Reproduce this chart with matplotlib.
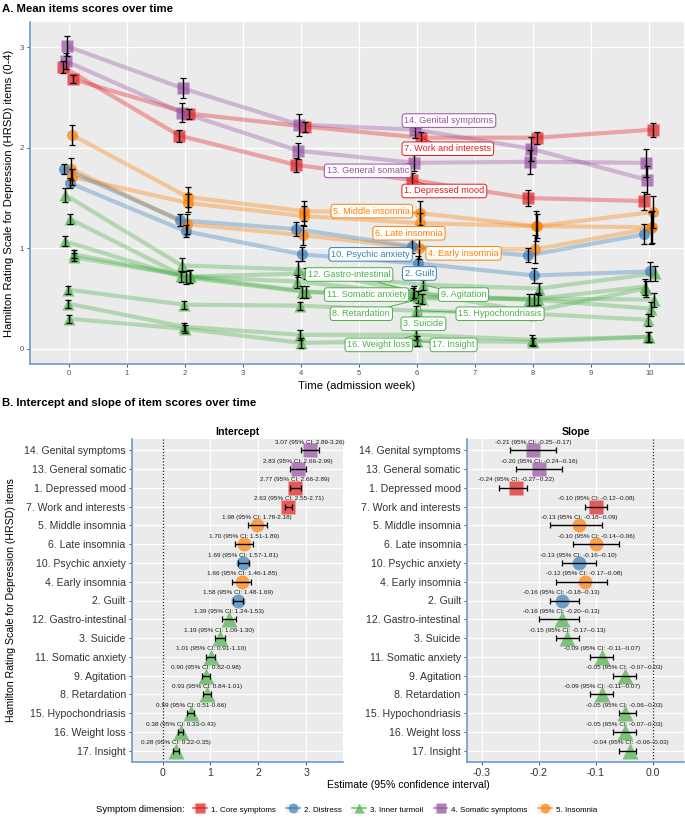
import numpy as np
import matplotlib
matplotlib.use("Agg")
import matplotlib.pyplot as plt
from matplotlib.lines import Line2D
from matplotlib.patches import Patch
from matplotlib.legend_handler import HandlerTuple

plt.rcParams['font.family'] = ['Liberation Sans', 'DejaVu Sans']

# ---------------- data ----------------
weeks = [0, 2, 4, 6, 8, 10]

items = ["1. Depressed mood", "2. Guilt", "3. Suicide", "4. Early insomnia",
         "5. Middle insomnia", "6. Late insomnia", "7. Work and interests",
         "8. Retardation", "9. Agitation", "10. Psychic anxiety",
         "11. Somatic anxiety", "12. Gastro-intestinal", "13. General somatic",
         "14. Genital symptoms", "15. Hypochondriasis", "16. Weight loss",
         "17. Insight"]
item_dim = [1, 2, 3, 5, 5, 5, 1, 3, 3, 2, 3, 3, 4, 4, 3, 3, 3]

mean_scores = [
    [2.80, 2.12, 1.83, 1.68, 1.50, 1.47],
    [1.65, 1.17, 0.94, 0.85, 0.73, 0.77],
    [1.29, 0.71, 0.57, 0.52, 0.49, 0.40],
    [1.79, 1.24, 1.13, 1.00, 0.99, 1.20],
    [2.13, 1.51, 1.37, 1.35, 1.22, 1.21],
    [1.71, 1.45, 1.32, 1.25, 1.22, 1.36],
    [2.68, 2.34, 2.21, 2.10, 2.10, 2.18],
    [0.94, 0.72, 0.57, 0.50, 0.50, 0.49],
    [0.91, 0.72, 0.75, 0.64, 0.60, 0.75],
    [1.79, 1.28, 1.19, 1.02, 0.93, 1.14],
    [1.07, 0.72, 0.67, 0.55, 0.49, 0.62],
    [1.53, 0.83, 0.79, 0.57, 0.37, 0.60],
    [2.86, 2.35, 1.97, 1.85, 1.86, 1.85],
    [3.01, 2.59, 2.23, 2.18, 1.99, 1.68],
    [0.59, 0.44, 0.43, 0.38, 0.35, 0.29],
    [0.45, 0.22, 0.14, 0.14, 0.09, 0.12],
    [0.30, 0.20, 0.06, 0.08, 0.07, 0.12],
]
mean_err = [
    [0.06, 0.06, 0.07, 0.07, 0.08, 0.09],
    [0.05, 0.06, 0.07, 0.07, 0.07, 0.09],
    [0.05, 0.06, 0.06, 0.06, 0.06, 0.07],
    [0.11, 0.10, 0.10, 0.11, 0.14, 0.16],
    [0.10, 0.10, 0.10, 0.12, 0.15, 0.16],
    [0.08, 0.09, 0.10, 0.10, 0.12, 0.16],
    [0.04, 0.05, 0.05, 0.06, 0.06, 0.07],
    [0.04, 0.06, 0.06, 0.05, 0.06, 0.07],
    [0.04, 0.06, 0.05, 0.05, 0.06, 0.07],
    [0.05, 0.06, 0.07, 0.07, 0.07, 0.10],
    [0.05, 0.05, 0.06, 0.06, 0.06, 0.08],
    [0.07, 0.07, 0.08, 0.06, 0.06, 0.08],
    [0.08, 0.09, 0.08, 0.08, 0.12, 0.14],
    [0.10, 0.10, 0.11, 0.08, 0.12, 0.14],
    [0.04, 0.04, 0.04, 0.05, 0.06, 0.06],
    [0.04, 0.04, 0.05, 0.05, 0.05, 0.05],
    [0.04, 0.04, 0.05, 0.05, 0.04, 0.05],
]

dim_names = ["1. Core symptoms", "2. Distress", "3. Inner turmoil",
             "4. Somatic symptoms", "5. Insomnia"]

b_items = [14, 13, 1, 7, 5, 6, 10, 4, 2, 12, 3, 11, 9, 8, 15, 16, 17]
intercept = [3.07, 2.83, 2.77, 2.63, 1.98, 1.70, 1.69, 1.66, 1.58, 1.39,
             1.19, 1.01, 0.90, 0.93, 0.59, 0.38, 0.28]
intercept_lo = [2.89, 2.66, 2.66, 2.55, 1.78, 1.51, 1.57, 1.46, 1.48, 1.24,
                1.09, 0.91, 0.82, 0.84, 0.51, 0.33, 0.22]
intercept_hi = [3.26, 2.99, 2.89, 2.71, 2.18, 1.89, 1.81, 1.85, 1.69, 1.53,
                1.30, 1.10, 0.98, 1.01, 0.66, 0.43, 0.35]
slope = [-0.21, -0.20, -0.24, -0.10, -0.13, -0.10, -0.13, -0.12, -0.16, -0.16,
         -0.15, -0.09, -0.05, -0.09, -0.05, -0.05, -0.04]
slope_lo = [-0.25, -0.24, -0.27, -0.12, -0.18, -0.14, -0.16, -0.17, -0.18, -0.20,
            -0.17, -0.11, -0.07, -0.11, -0.06, -0.07, -0.06]
slope_hi = [-0.17, -0.16, -0.22, -0.08, -0.09, -0.06, -0.10, -0.08, -0.13, -0.13,
            -0.13, -0.07, -0.03, -0.07, -0.03, -0.03, -0.03]

# ---------------- style ----------------
dim_color = {1: '#E41A1C', 2: '#377EB8', 3: '#4DAF4A', 4: '#984EA3', 5: '#FF7F00'}
dim_marker = {1: 's', 2: 'o', 3: '^', 4: 's', 5: 'o'}
label_pos = {1: (6.47, 1.57), 2: (6.04, 0.75), 3: (6.11, 0.25), 4: (6.80, 0.95),
             5: (5.22, 1.37), 6: (5.86, 1.15), 7: (6.53, 1.99), 8: (5.04, 0.35),
             9: (6.80, 0.54), 10: (5.20, 0.94), 11: (5.13, 0.54), 12: (4.83, 0.74),
             13: (5.15, 1.77), 14: (6.55, 2.27), 15: (7.43, 0.35), 16: (5.34, 0.04),
             17: (6.63, 0.04)}
BG = '#EBEBEB'
SPINE = '#6A9BD1'

W, H = 685, 818
fig = plt.figure(figsize=(W / 100, H / 100), dpi=100)


def rect(l, t, r, b):
    return [l / W, 1 - b / H, (r - l) / W, (b - t) / H]


def style(ax):
    ax.set_facecolor(BG)
    for s in ['top', 'right']:
        ax.spines[s].set_visible(False)
    for s in ['left', 'bottom']:
        ax.spines[s].set_color(SPINE)
        ax.spines[s].set_linewidth(1.2)
    ax.grid(True, color='white', lw=0.9)
    ax.set_axisbelow(True)


# ---------------- panel A ----------------
axA = fig.add_axes(rect(30, 22, 684, 364))
style(axA)
order = sorted(items)  # ggplot dodges groups in factor (alphabetical) order
n = len(items)
for i, name in enumerate(items):
    d = item_dim[i]
    k = order.index(name)
    off = -0.1 + (k + 0.5) * 0.2 / n
    x = np.array(weeks) + off
    y = mean_scores[i]
    axA.plot(x, y, color=dim_color[d], lw=3, alpha=0.35, solid_capstyle='butt', zorder=2)
    axA.plot(x, y, ls='none', marker=dim_marker[d], ms=8 if d != 3 else 9,
             color=dim_color[d], alpha=0.7, mec='none', zorder=3)
    axA.errorbar(x, y, yerr=mean_err[i], fmt='none', ecolor='black', elinewidth=1,
                 capsize=2, capthick=0.9, zorder=4)

for i, name in enumerate(items):
    num = i + 1
    d = item_dim[i]
    k = order.index(name)
    off = -0.1 + (k + 0.5) * 0.2 / n
    lx, ly = label_pos[num]
    px, py = 6 + off, mean_scores[i][3]
    axA.plot([px, lx], [py, ly], color=dim_color[d], lw=0.7, zorder=5)
    axA.text(lx, ly, name, ha='center', va='center', fontsize=6.6, color=dim_color[d],
             zorder=6,
             bbox=dict(boxstyle='round,pad=0.25,rounding_size=0.3', fc='white',
                       ec=dim_color[d], lw=0.7))

axA.set_xlim(-0.67, 10.6)
axA.set_ylim(-0.15, 3.25)
axA.set_xticks(range(0, 11))
axA.set_yticks([0, 1, 2, 3])
axA.tick_params(length=2.5, width=0.6, color='#333333', labelsize=5.5,
                labelcolor='#4D4D4D', pad=2)
axA.set_xlabel("Time (admission week)", fontsize=8.2, labelpad=3)
axA.set_ylabel("Hamilton Rating Scale for Depression (HRSD) items (0-4)", fontsize=8.1,
               labelpad=4)

fig.text(2 / W, 1 - 9 / H, "A. Mean items scores over time", fontsize=8.2,
         fontweight='bold', va='center', ha='left')
fig.text(2 / W, 1 - 403 / H, "B. Intercept and slope of item scores over time",
         fontsize=8.2, fontweight='bold', va='center', ha='left')

# ---------------- panel B ----------------
axI = fig.add_axes(rect(132, 439, 343, 762))
axS = fig.add_axes(rect(467, 439, 684, 762))
rows = np.arange(len(b_items))[::-1] + 1
labels = [items[j - 1] for j in b_items]


def forest(ax, est, lo, hi, fmt, title):
    style(ax)
    for r, j, e, l, h in zip(rows, b_items, est, lo, hi):
        d = item_dim[j - 1]
        ax.plot(e, r, marker=dim_marker[d], ms=10 if d != 3 else 11, color=dim_color[d],
                alpha=0.7, mec='none', zorder=3)
        ax.errorbar(e, r, xerr=[[e - l], [h - e]], fmt='none', ecolor='black',
                    elinewidth=1, capsize=2, capthick=0.9, zorder=4)
        ax.text(e, r + 0.42, fmt.format(e, l, h), fontsize=4.6, ha='center',
                va='center', color='#1a1a1a', zorder=5)
    ax.axvline(0, color='#1a1a1a', ls=(0, (1, 1.5)), lw=0.9, zorder=2)
    ax.set_yticks(rows)
    ax.set_yticklabels(labels)
    ax.set_ylim(0.4, len(b_items) + 0.6)
    ax.tick_params(length=2.5, width=0.6, color='#333333', labelsize=7.6,
                   labelcolor='#333333', pad=2)
    ax.set_title(title, fontsize=7.6, fontweight='bold', pad=3)


forest(axI, intercept, intercept_lo, intercept_hi,
       "{:.2f} (95% CI: {:.2f}-{:.2f})", "Intercept")
axI.set_xlim(-0.64, 3.77)
axI.set_xticks([0, 1, 2, 3])

forest(axS, slope, slope_lo, slope_hi,
       "{:.2f} (95% CI: {:.2f}-{:.2f})", "Slope")
axS.set_xlim(-0.3257, 0.054)
axS.set_xticks([-0.3, -0.2, -0.1, 0.0])
axS.set_xticklabels(["-0.3", "-0.2", "-0.1", "0.0"])

fig.text(408 / W, 1 - 785 / H, "Estimate (95% confidence interval)", fontsize=7.6,
         ha='center', va='center')
fig.text(11 / W, 1 - 600 / H, "Hamilton Rating Scale for Depression (HRSD) items",
         fontsize=7.6, rotation=90, ha='center', va='center')

# ---------------- legend ----------------
fig.text(96 / W, 1 - 809 / H, "Symptom dimension:", fontsize=6.8, ha='left', va='center')
handles = [(Patch(fc='#F2F2F2', ec='none'),
            Line2D([0], [0], color=dim_color[d], marker=dim_marker[d], ms=7, alpha=0.7,
                   lw=1.2, mec='none')) for d in range(1, 6)]
leg = fig.legend(handles, dim_names, loc='center left', ncol=5,
                 bbox_to_anchor=(186 / W, 1 - 809 / H), frameon=False, fontsize=5.8,
                 handlelength=1.7, handleheight=1.6, columnspacing=1.3, handletextpad=0.5,
                 handler_map={tuple: HandlerTuple(ndivide=1)})

fig.savefig("out.png", dpi=100)
